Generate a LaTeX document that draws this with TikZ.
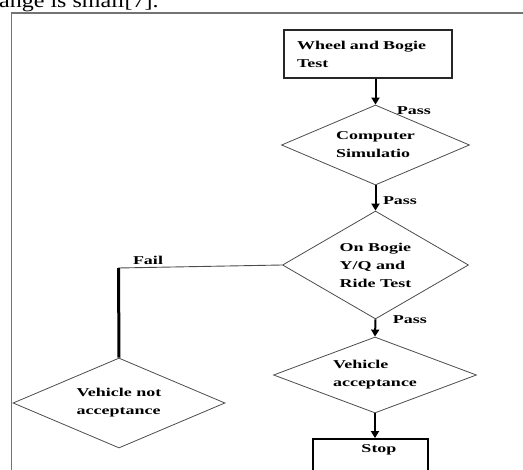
\documentclass[tikz,border=0pt]{standalone}
\usepackage{fontspec}
\setmainfont{Liberation Serif}
\newfontfamily\lblfont{Liberation Serif}[FakeStretch=1.5]
\newfontfamily\hdrfont{Liberation Serif}[FakeStretch=1.2]
\usetikzlibrary{shapes.geometric,arrows.meta}
\begin{document}
\begin{tikzpicture}[x=1pt,y=-1pt,
  lbl/.style={font=\lblfont\bfseries\fontsize{12}{18}\selectfont, inner sep=0pt},
  dec/.style={diamond, draw=black!70, line width=0.8pt, inner sep=0pt, align=left,
              font=\lblfont\bfseries\fontsize{12}{18}\selectfont},
  flow/.style={line width=2pt, -{Triangle[width=8pt,length=7pt]}},
  frame/.style={draw=black!55, line width=1.6pt}]
\useasboundingbox (0,0) rectangle (523,470);
\clip (0,0) rectangle (523,470);
% header fragment and frame
\node[anchor=base west, inner sep=0pt, font=\hdrfont\fontsize{20}{22}\selectfont] (hdr) at (-1,8) {ange is small[7].};
\coordinate (ftl) at (11.5,13);
\coordinate (fbl) at (11.5,480);
\coordinate (ftr) at (530,13);
\draw[frame] (fbl) -- (ftl) -- (ftr);
% nodes
\node[draw=black!85, line width=1.3pt, minimum width=168pt, minimum height=48pt,
      text width=142pt, inner xsep=13pt, align=left, lbl] (wheel) at (368,54) {Wheel and Bogie\\Test};
\node[dec, minimum width=188pt, minimum height=80pt, aspect=2.35] (d1) at (375.5,145) {Computer\\Simulatio};
\node[dec, minimum width=186pt, minimum height=108pt, aspect=1.72] (d2) at (375.5,265) {On Bogie\\Y/Q and\\Ride Test};
\node[dec, minimum width=203pt, minimum height=76pt, aspect=2.67] (d4) at (375,375) {Vehicle\\acceptance};
\node[dec, minimum width=212pt, minimum height=90pt, aspect=2.36] (d3) at (119,403) {Vehicle not\\acceptance};
\node[draw=black, line width=1.8pt, minimum width=115pt, minimum height=50pt] (stop) at (370.5,464) {};
\node[lbl] (stoplbl) at (379,450) {Stop};
% connectors
\draw[flow] (wheel.south -| d1.north) -- (d1.north);
\draw[flow] (d1.south) -- (d2.north);
\draw[flow] (d2.south) -- (d4.north);
\draw[flow] (d4.south) -- (d4.south |- stop.north);
\coordinate (failc) at (118.5,268);
\draw[black!70, line width=0.9pt] (d2.west) -- (failc);
\draw[line width=3pt] (failc) -- (d3.north);
% labels
\node[lbl] (p1) at (414,111) {Pass};
\node[lbl] (p2) at (400,201) {Pass};
\node[lbl] (p3) at (410,320) {Pass};
\node[lbl] (fail) at (148,260) {Fail};
\end{tikzpicture}
\end{document}
